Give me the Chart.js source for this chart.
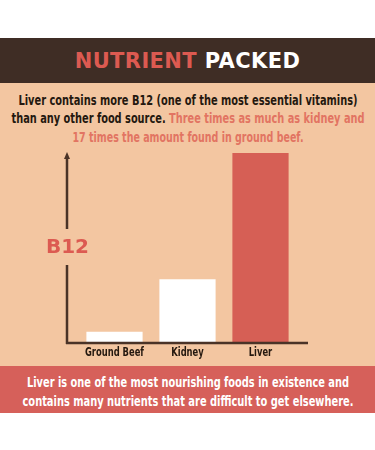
<!DOCTYPE html>
<html>
<head>
<meta charset="utf-8">
<script src="https://cdn.jsdelivr.net/npm/chart.js@4/dist/chart.umd.min.js"></script>
<style>
  body { margin: 0; width: 375px; height: 450px; background: #fff; position: relative; overflow: hidden; }
  .top { position: absolute; left: 0; top: 38px; width: 375px; height: 45px; background: #3f2d25; text-align: center;
         font-family: 'DejaVu Sans', sans-serif; font-weight: bold; font-size: 21px; letter-spacing: 0.4px; line-height: 46px; color: #fff; }
  .top span { color: #dc5a51; }
  .peach { position: absolute; left: 0; top: 83px; width: 375px; height: 283px; background: #f3c6a1; }
  .line { position: absolute; left: 0; width: 375px; height: 18px; white-space: nowrap;
          font-family: 'DejaVu Sans Condensed', 'DejaVu Sans', sans-serif; font-weight: bold; font-size: 14px; line-height: 18px; }
  .line b { position: absolute; left: 50%; top: 0; font-weight: bold; transform-origin: center; transform: translateX(-50%); }
  .dark { color: #24180f; }
  .salmon { color: #e27462; }
  .bottom { position: absolute; left: 0; top: 366px; width: 375px; height: 47px; background: #d6605a; }
  .white { color: #fff; }
  #wrap { position: absolute; left: 0; top: 140px; width: 375px; height: 226px; }
</style>
</head>
<body>
<div class="top"><span>NUTRIENT</span> PACKED</div>
<div class="peach"></div>
<div class="bottom"></div>
<div class="line dark" style="top:91px"><b data-w="339">Liver contains more B12 (one of the most essential vitamins)</b></div>
<div class="line dark" style="top:109px"><b data-w="353">than any other food source. <span class="salmon">Three times as much as kidney and</span></b></div>
<div class="line salmon" style="top:128px"><b data-w="231">17 times the amount found in ground beef.</b></div>
<div id="wrap"><canvas id="myChart"></canvas></div>
<div class="line white" style="top:373px"><b data-w="322">Liver is one of the most nourishing foods in existence and</b></div>
<div class="line white" style="top:392px"><b data-w="331">contains many nutrients that are difficult to get elsewhere.</b></div>

<script>
// donnees (B12 relatif, boeuf hache = 1)
const foods = ['Ground Beef', 'Kidney', 'Liver'];
const b12 = [1, 5.7, 17];
const barColors = ['#ffffff', '#ffffff', '#d65f55'];

const axisColor = '#4a3327';
const peach = '#f3c6a1';
const labelFont = 'bold 13px "DejaVu Sans Condensed", "DejaVu Sans", sans-serif';

// texte condense : on compresse chaque ligne a la largeur de l'image
document.querySelectorAll('.line b').forEach(el => {
  const w = el.getBoundingClientRect().width;
  el.style.transform = 'translateX(-50%) scaleX(' + (Number(el.dataset.w) / w) + ')';
});

// dessine les axes, la fleche, le label B12 et les noms sous les barres
const axesPlugin = {
  id: 'axes',
  afterDraw(chart) {
    const { ctx, chartArea } = chart;
    const x0 = chartArea.left - 11;
    const y0 = chartArea.bottom;
    ctx.save();
    ctx.strokeStyle = axisColor;
    ctx.fillStyle = axisColor;
    ctx.lineWidth = 2.5;
    ctx.beginPath();
    ctx.moveTo(x0, y0 + 1);
    ctx.lineTo(x0, chartArea.top + 4);
    ctx.moveTo(x0 - 1, y0);
    ctx.lineTo(chartArea.right + 11, y0);
    ctx.stroke();
    // pointe de fleche
    ctx.beginPath();
    ctx.moveTo(x0, chartArea.top - 1);
    ctx.lineTo(x0 - 3, chartArea.top + 6);
    ctx.lineTo(x0 + 3, chartArea.top + 6);
    ctx.closePath();
    ctx.fill();
    // label B12 qui coupe l'axe
    const ly = chartArea.top + (chartArea.bottom - chartArea.top) * 0.5;
    ctx.fillStyle = peach;
    ctx.fillRect(x0 - 22, ly - 19, 44, 36);
    ctx.fillStyle = '#dc5a51';
    ctx.font = 'bold 20px "DejaVu Sans", sans-serif';
    ctx.textAlign = 'center';
    ctx.textBaseline = 'middle';
    ctx.fillText('B12', x0 + 0.5, ly);
    // noms des categories, compresses comme sur l'image
    ctx.font = labelFont;
    ctx.fillStyle = '#24180f';
    const k = 59 / ctx.measureText(foods[0]).width;
    const xs = chart.scales.x;
    foods.forEach((f, i) => {
      ctx.save();
      ctx.translate(xs.getPixelForTick(i), y0 + 10);
      ctx.scale(k, 1);
      ctx.fillText(f, 0, 0);
      ctx.restore();
    });
    ctx.restore();
  }
};

const ctx = document.getElementById('myChart');

new Chart(ctx, {
  type: 'bar',
  data: {
    labels: foods,
    datasets: [{
      data: b12,
      backgroundColor: barColors,
      borderWidth: 0,
      categoryPercentage: 1,
      barPercentage: 0.77
    }]
  },
  options: {
    responsive: true,
    maintainAspectRatio: false,
    animation: false,
    layout: { padding: { left: 78, right: 78, top: 13, bottom: 23 } },
    plugins: { legend: { display: false }, tooltip: { enabled: false } },
    scales: {
      x: { display: false },
      y: { display: false, min: 0, max: 17 }
    }
  },
  plugins: [axesPlugin]
});
</script>
</body>
</html>
